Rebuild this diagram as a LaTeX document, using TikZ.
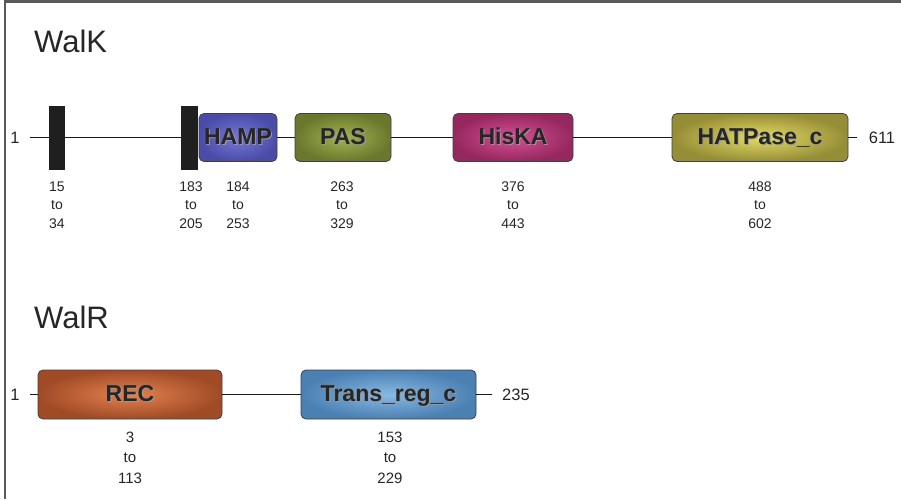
\documentclass[tikz,border=0pt]{standalone}
\usepackage{fontspec}
\setmainfont{Liberation Sans}
% domain name with a soft drop shadow
\newcommand\shtxt[1]{\leavevmode\rlap{\kern1.1pt\raisebox{-1.1pt}{\textcolor{black!40}{#1}}}#1}
\begin{document}
\begin{tikzpicture}[x=1pt,y=-1pt,
  frame/.style={line width=2.5pt, draw=black!65},
  title/.style={anchor=base west, inner sep=0pt, text=black!85,
    font=\fontsize{31}{31}\selectfont},
  domainbox/.style={draw=black!75, line width=0.8pt, rounded corners=5pt,
    minimum height=48pt, inner sep=0pt, text=black!85,
    text height=16.5pt, text depth=2pt,
    font=\fontsize{23}{23}\selectfont\bfseries},
  tmbar/.style={fill=black!88, draw=none, minimum width=16.5pt,
    minimum height=64pt, inner sep=0pt},
  posk/.style={align=center, inner sep=0pt, text=black!85,
    font=\fontsize{14}{18.5}\selectfont},
  posr/.style={align=center, inner sep=0pt, text=black!85,
    font=\fontsize{15}{20.5}\selectfont},
  termlabel/.style={inner sep=0pt, text=black!85,
    font=\fontsize{16.5}{16.5}\selectfont},
  backbone/.style={line width=1.6pt, draw=black!90}]
\useasboundingbox (0,0) rectangle (901,499);

% frame (top and left edges)
\draw[frame] (5,499) -- (5,1.5) -- (901,1.5);

% ---------------- WalK ----------------
\node[title] (walk) at (34,52) {WalK};

\node[termlabel] (k1) at (15,138) {1};
\node[termlabel] (k611) at (882,138) {611};
\coordinate (ks) at (30,137.5);
\coordinate (ke) at (857,137.5);

\node[tmbar] (tm1) at (57,137.5) {};
\node[tmbar] (tm2) at (189.5,137.5) {};

\node[domainbox, minimum width=78pt,
  inner color={rgb,255:red,120;green,120;blue,215},
  outer color={rgb,255:red,75;green,75;blue,168}] (hamp) at (238,137.5) {\shtxt{HAMP}};
\node[domainbox, minimum width=96pt,
  inner color={rgb,255:red,165;green,180;blue,80},
  outer color={rgb,255:red,105;green,120;blue,45}] (pas) at (343,137.5) {\shtxt{PAS}};
\node[domainbox, minimum width=120pt,
  inner color={rgb,255:red,215;green,80;blue,150},
  outer color={rgb,255:red,150;green,40;blue,95}] (hiska) at (513,137.5) {\shtxt{HisKA}};
\node[domainbox, minimum width=176pt,
  inner color={rgb,255:red,228;green,220;blue,100},
  outer color={rgb,255:red,150;green,142;blue,55}] (hatp) at (760,137.5) {\shtxt{HATPase\_c}};

\draw[backbone] (ks) -- (tm1) -- (tm2);
\draw[backbone] (hamp) -- (pas) -- (hiska) -- (hatp) -- (ke);

\node[posk] (p1) at (57,205) {15\\to\\34};
\node[posk] (p2) at (191,205) {183\\to\\205};
\node[posk] (p3) at (238,205) {184\\to\\253};
\node[posk] (p4) at (342,205) {263\\to\\329};
\node[posk] (p5) at (513,205) {376\\to\\443};
\node[posk] (p6) at (760,205) {488\\to\\602};

% ---------------- WalR ----------------
\node[title] (walr) at (34,328) {WalR};

\node[termlabel] (r1) at (15,394.5) {1};
\node[termlabel] (r235) at (516,394.5) {235};
\coordinate (rs) at (30,394.5);
\coordinate (re) at (492,394.5);

\node[domainbox, minimum width=184pt, minimum height=49pt,
  inner color={rgb,255:red,228;green,130;blue,80},
  outer color={rgb,255:red,160;green,75;blue,38}] (rec) at (130,394.5) {\shtxt{REC}};
\node[domainbox, minimum width=175pt, minimum height=49pt,
  inner color={rgb,255:red,135;green,185;blue,228},
  outer color={rgb,255:red,75;green,128;blue,178}] (trans) at (388.5,394.5) {\shtxt{Trans\_reg\_c}};

\draw[backbone] (rs) -- (rec) -- (trans) -- (re);

\node[posr] (q1) at (130,457.5) {3\\to\\113};
\node[posr] (q2) at (390,457.5) {153\\to\\229};
\end{tikzpicture}
\end{document}
